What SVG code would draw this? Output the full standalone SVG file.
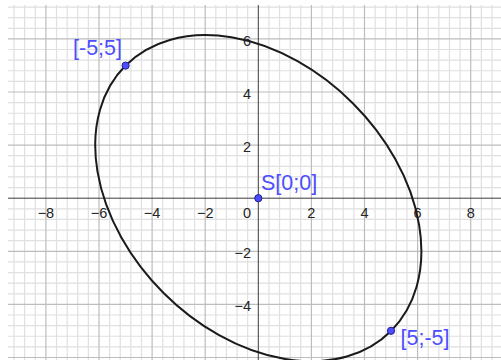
<svg xmlns="http://www.w3.org/2000/svg" width="501" height="360" viewBox="0 0 501 360">
<style>
.minor{stroke:#e0e0e0;stroke-width:1.2;fill:none}
.major{stroke:#bdbdbd;stroke-width:1.2;fill:none}
.axis{stroke:#3c3c3c;stroke-width:1;fill:none}
.tick{font-family:"Liberation Sans",Arial,sans-serif;font-size:14.5px;fill:#252525}
.lbl{font-family:"Liberation Sans",Arial,sans-serif;font-size:21.5px;fill:#4d4dff}
.pt{fill:#4d4dff;stroke:#1e1e8c;stroke-width:1}
</style>
<rect width="501" height="360" fill="#ffffff"/>
<defs><clipPath id="gc"><rect x="8" y="5" width="493" height="355"/></clipPath></defs>
<g id="grid" clip-path="url(#gc)">
<path class="minor" d="M14.04 5V360M24.66 5V360M35.28 5V360M56.52 5V360M67.14 5V360M77.76 5V360M88.38 5V360M109.62 5V360M120.24 5V360M130.86 5V360M141.48 5V360M162.72 5V360M173.34 5V360M183.96 5V360M194.58 5V360M215.82 5V360M226.44 5V360M237.06 5V360M247.68 5V360M268.92 5V360M279.54 5V360M290.16 5V360M300.78 5V360M322.02 5V360M332.64 5V360M343.26 5V360M353.88 5V360M375.12 5V360M385.74 5V360M396.36 5V360M406.98 5V360M428.22 5V360M438.84 5V360M449.46 5V360M460.08 5V360M481.32 5V360M491.94 5V360
M8 7.04H501M8 17.66H501M8 28.28H501M8 49.52H501M8 60.14H501M8 70.76H501M8 81.38H501M8 102.62H501M8 113.24H501M8 123.86H501M8 134.48H501M8 155.72H501M8 166.34H501M8 176.96H501M8 187.58H501M8 208.82H501M8 219.44H501M8 230.06H501M8 240.68H501M8 261.92H501M8 272.54H501M8 283.16H501M8 293.78H501M8 315.02H501M8 325.64H501M8 336.26H501M8 346.88H501"/>
<path class="major" d="M45.9 5V360M99 5V360M152.1 5V360M205.2 5V360M311.4 5V360M364.5 5V360M417.6 5V360M470.7 5V360M8 38.9H501M8 92H501M8 145.1H501M8 251.3H501M8 304.4H501M8 357.5H501"/>
<path class="axis" d="M8 198.2H501M258.3 5V360"/>
</g>
<g id="ticks" class="tick">
<text x="45.9" y="217.5" text-anchor="middle">−8</text>
<text x="99" y="217.5" text-anchor="middle">−6</text>
<text x="152.1" y="217.5" text-anchor="middle">−4</text>
<text x="205.2" y="217.5" text-anchor="middle">−2</text>
<text x="251" y="217.5" text-anchor="end">0</text>
<text x="311.4" y="217.5" text-anchor="middle">2</text>
<text x="364.5" y="217.5" text-anchor="middle">4</text>
<text x="417.6" y="217.5" text-anchor="middle">6</text>
<text x="470.7" y="217.5" text-anchor="middle">8</text>
<text x="251" y="45.5" text-anchor="end">6</text>
<text x="251" y="98.8" text-anchor="end">4</text>
<text x="251" y="152" text-anchor="end">2</text>
<text x="251" y="258" text-anchor="end">−2</text>
<text x="251" y="311.2" text-anchor="end">−4</text>
</g>
<g id="ellipse">
<ellipse cx="258.3" cy="198.2" rx="187.7" ry="134" transform="rotate(45 258.3 198.2)" fill="none" stroke="#1a1a1a" stroke-width="2"/>
</g>
<g id="pointA">
<circle class="pt" cx="125.6" cy="65.6" r="3.6"/>
<text class="lbl" x="73" y="54.5">[-5;5]</text>
</g>
<g id="pointS">
<circle class="pt" cx="258.3" cy="198.2" r="3.6"/>
<text class="lbl" x="261" y="190">S[0;0]</text>
</g>
<g id="pointB">
<circle class="pt" cx="391" cy="330.8" r="3.6"/>
<text class="lbl" x="400.5" y="344.5">[5;-5]</text>
</g>
</svg>
